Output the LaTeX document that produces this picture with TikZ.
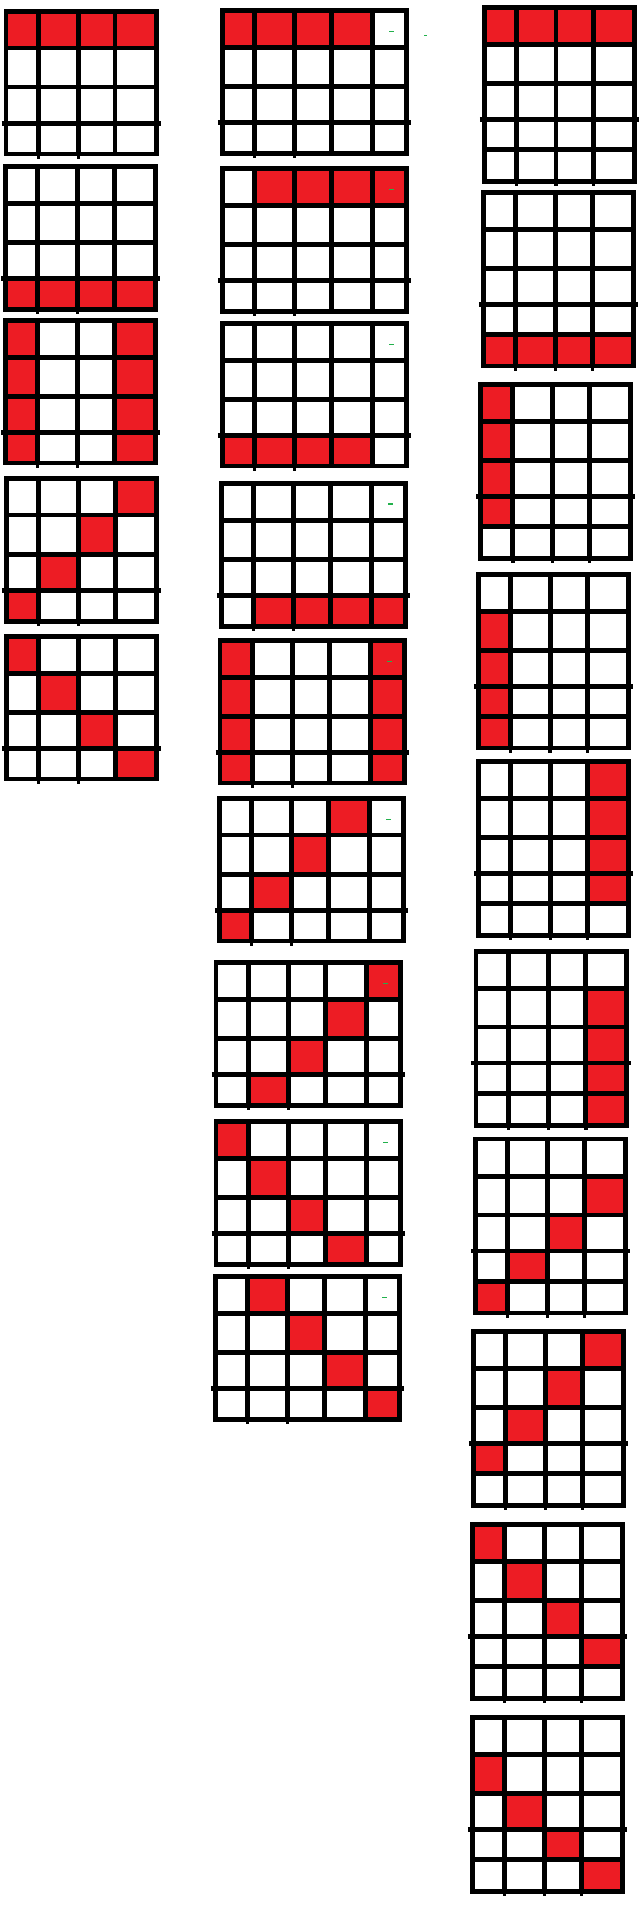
\documentclass[tikz,border=0pt]{standalone}
\usetikzlibrary{calc}
\definecolor{cellred}{HTML}{ED1C24}
\definecolor{markgreen}{HTML}{22B14C}
\tikzset{
  gridline/.style={line width=4.6pt, black},
  framebox/.style={line width=4.6pt, black, line join=miter},
  redcell/.style={fill=cellred},
  greenmark/.style={line width=1.3pt, markgreen}
}
% #1 xs, #2 ys, #3 columns, #4 rows, #5 red cells col/row, #6 ticks
\newcommand\pgrid[6]{%
  \foreach \val [count=\kk from 0] in {#1} {\coordinate (gx\kk) at (\val,0);}
  \foreach \val [count=\kk from 0] in {#2} {\coordinate (gy\kk) at (0,\val);}
  \foreach \ci/\ri in {#5} {%
    \pgfmathtruncatemacro\cj{\ci+1}\pgfmathtruncatemacro\rj{\ri+1}%
    \fill[redcell] (gx\ci |- gy\ri) rectangle (gx\cj |- gy\rj);}
  \pgfmathtruncatemacro\gnx{#3-1}\pgfmathtruncatemacro\gny{#4-1}%
  \foreach \kk in {1,...,\gnx} {\draw[gridline] (gx\kk |- gy0) -- (gx\kk |- gy#4);}
  \foreach \kk in {1,...,\gny} {\draw[gridline] (gx0 |- gy\kk) -- (gx#3 |- gy\kk);}
  \draw[gridline] ($(gx0 |- gy3)+(-4.5,0)$) -- ($(gx#3 |- gy3)+(4.5,0)$);
  \foreach \kk in {1,...,#6} {\draw[line width=3.6pt] (gx\kk |- gy#4) -- ($(gx\kk |- gy#4)+(0,4.6)$);}
  \draw[framebox] (gx0 |- gy0) rectangle (gx#3 |- gy#4);
}
\begin{document}
\begin{tikzpicture}[x=1pt,y=-1pt]
\fill[white] (0,0) rectangle (640,1906);
\useasboundingbox (0,0) rectangle (640,1906);
% column 1
\pgrid{6,38.3,78.3,115,156.5}{11.7,48,87,123.5,154}{4}{4}{0/0,1/0,2/0,3/0}{2}
\pgrid{5.7,37.3,77.3,114.3,155.3}{166.3,203.3,242.3,278.3,309.3}{4}{4}{0/3,1/3,2/3,3/3}{2}
\pgrid{5.7,37.3,77.3,114.3,155.3}{320.7,357.3,396.3,432.3,463}{4}{4}{0/0,0/1,0/2,0/3,3/0,3/1,3/2,3/3}{2}
\pgrid{6.3,38.3,78.3,115.3,156.3}{478.3,515,554.3,590.3,621.3}{4}{4}{3/0,2/1,1/2,0/3}{2}
\pgrid{6.3,38.3,78.3,115.3,156.3}{636.3,673.3,712.3,748.3,779}{4}{4}{0/0,1/1,2/2,3/3}{2}
% column 2
\pgrid{222.3,254.3,294.3,331.3,372.3,406.7}{10.3,47.3,86.3,122.3,153.3}{5}{4}{0/0,1/0,2/0,3/0}{2}
\pgrid{222.3,254.3,294.3,331.3,372.3,406.7}{168.3,205.3,244.3,280.3,311.3}{5}{4}{1/0,2/0,3/0,4/0}{2}
\pgrid{222.3,254.3,294.3,331.3,372.3,406.7}{323.3,360.3,399.3,435.3,466}{5}{4}{0/3,1/3,2/3,3/3}{2}
\pgrid{221.3,253.3,293.3,330.3,371.3,405.3}{483.7,520.3,559.7,595.3,626.3}{5}{4}{1/3,2/3,3/3,4/3}{2}
\pgrid{220,252.3,292.3,329.3,370.7,404.3}{640.7,677.3,716.3,752.3,783}{5}{4}{0/0,0/1,0/2,0/3,4/0,4/1,4/2,4/3}{2}
\pgrid{219.3,251.3,291.3,328.3,369.3,403.3}{798.3,835,874.3,910.3,941}{5}{4}{3/0,2/1,1/2,0/3}{2}
\pgrid{216,248.3,288.3,325.3,366.3,400.3}{962.3,999.3,1038.3,1074.3,1105.3}{5}{4}{4/0,3/1,2/2,1/3}{2}
\pgrid{216,248.3,288.3,325.3,366.3,400.3}{1121.3,1158.3,1197.3,1233.3,1264.3}{5}{4}{0/0,1/1,2/2,3/3}{2}
\pgrid{215.3,247.3,287.3,324.3,365.3,399.3}{1276.3,1313.3,1352.3,1388.3,1419.3}{5}{4}{1/0,2/1,3/2,4/3}{2}
% column 3
\pgrid{484.3,516.3,556,593.3,634.3}{7.7,44.3,83.3,119.7,149.3,181.3}{4}{5}{0/0,1/0,2/0,3/0}{3}
\pgrid{483.3,515.3,555.3,592.3,633.3}{192.3,229.3,268.3,304.3,334.7,366}{4}{5}{0/4,1/4,2/4,3/4}{3}
\pgrid{480.7,512.7,552.3,589.3,630.7}{384.3,421.3,460.3,496.3,526.7,558.3}{4}{5}{0/0,0/1,0/2,0/3}{3}
\pgrid{478.5,510.3,550.2,587.3,628.5}{574.3,611.3,650.7,686.3,716.7,748}{4}{5}{0/1,0/2,0/3,0/4}{3}
\pgrid{478.7,510.3,550.3,587.3,628.7}{761.3,798.7,837.3,873.3,903.7,935.3}{4}{5}{3/0,3/1,3/2,3/3}{3}
\pgrid{475.8,508.3,548.3,585.7,626.5}{951.3,988.7,1027,1063,1093.3,1125.3}{4}{5}{3/1,3/2,3/3,3/4}{3}
\pgrid{475.3,507.3,547.3,584.3,625.3}{1139,1176.3,1215,1251,1281.3,1313}{4}{5}{3/1,2/2,1/3,0/4}{3}
\pgrid{473.3,505.3,545.3,582.3,623.3}{1331.3,1368.3,1407.3,1443.3,1473.3,1505.3}{4}{5}{3/0,2/1,1/2,0/3}{3}
\pgrid{472.3,504.3,544.3,581.3,622.3}{1524.3,1561.3,1600.3,1636.3,1666.7,1698.3}{4}{5}{0/0,1/1,2/2,3/3}{3}
\pgrid{472.3,504.3,544.3,581.3,622.3}{1717.7,1754.3,1793.3,1829.3,1859.7,1891.3}{4}{5}{0/1,1/2,2/3,3/4}{3}
% green marks
\draw[greenmark] (389,31.3) -- (394,31.3);
\draw[greenmark] (424,35.3) -- (427,35.3);
\draw[greenmark] (389,189.3) -- (394,189.3);
\draw[greenmark] (389,344.3) -- (394,344.3);
\draw[greenmark] (388,504) -- (393,504);
\draw[greenmark] (387,661.3) -- (392,661.3);
\draw[greenmark] (386,819.3) -- (391,819.3);
\draw[greenmark] (383,983.3) -- (388,983.3);
\draw[greenmark] (383,1142.3) -- (388,1142.3);
\draw[greenmark] (382,1297.3) -- (387,1297.3);
\end{tikzpicture}
\end{document}
